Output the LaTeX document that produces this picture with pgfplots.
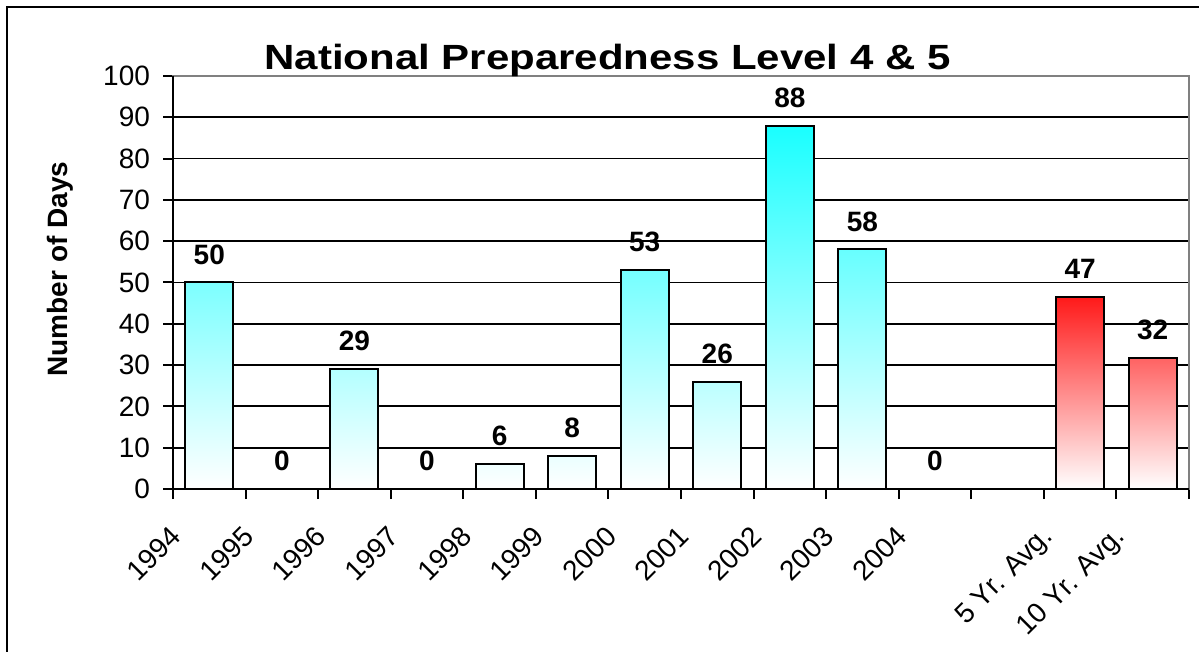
\documentclass[border=0pt]{standalone}
\usepackage{graphicx}
\usepackage{pgfplots}
\pgfplotsset{compat=1.18}
\usepackage{fontspec}
\setmainfont{Liberation Sans}
\definecolor{barcyan}{RGB}{25,255,255}
\definecolor{barred}{RGB}{255,25,25}
\definecolor{plotgray}{RGB}{128,128,128}

\begin{document}
\begin{tikzpicture}
\useasboundingbox (-86.5pt,-81.5pt) rectangle (513pt,244.5pt);
% outer chart frame (right and bottom edges fall outside the picture)
\draw[line width=1.2pt] (-83pt,-120pt) rectangle (560pt,241pt);
\begin{axis}[
    scale only axis,
    width=508pt, height=206.5pt,
    xmin=0, xmax=14,
    ymin=0, ymax=100,
    ybar, bar width=24pt,
    xtick={0,...,14},
    xticklabels={1994,1995,1996,1997,1998,1999,2000,2001,2002,2003,2004,{},5 Yr. Avg.,10 Yr. Avg.,{}},
    ytick={0,10,...,100},
    xtick pos=bottom, ytick pos=left,
    tick align=outside,
    major tick length=5pt,
    tick style={black, line width=1pt},
    axis line style={plotgray, line width=0.8pt},
    ymajorgrids,
    major grid style={black, line width=0.9pt},
    /pgf/number format/assume math mode=true,
    /pgf/number format/fixed,
    /pgf/number format/precision=0,
    ticklabel style={font=\fontsize{14}{16}\selectfont},
    yticklabel style={xshift=-3pt},
    xticklabel style={xshift=-2pt, yshift=-12.5pt, rotate=45, anchor=north east, inner sep=0pt},
    nodes near coords,
    nodes near coords style={font=\bfseries\fontsize{14}{16}\selectfont, anchor=center, yshift=14pt, text=black},
    clip=false,
]
\addplot[bar shift=0pt, draw=black, line width=1pt, top color=barcyan, middle color=barcyan!55!white, bottom color=white]
    coordinates {(0.5,50) (2.5,29) (4.5,6) (5.5,8) (6.5,53) (7.5,26) (8.5,88) (9.5,58)};
\addplot[bar shift=0pt, draw=none, fill=none]
    coordinates {(1.5,0) (3.5,0) (10.5,0)};
\addplot[bar shift=0pt, draw=black, line width=1pt, top color=barred, middle color=barred!55!white, bottom color=white]
    coordinates {(12.5,46.6) (13.5,31.8)};
\draw[black, line width=1.2pt] (rel axis cs:0,1) -- (rel axis cs:0,0) -- (rel axis cs:1,0);
\end{axis}
\node[anchor=base, font=\bfseries\fontsize{17.5}{20}\selectfont] at (217.25pt,209.5pt)
    {\scalebox{1.2}[1]{National Preparedness Level 4 \& 5}};
\node[rotate=90, font=\bfseries\fontsize{14}{16}\selectfont] at (-56.5pt,110pt) {Number of Days};
\end{tikzpicture}
\end{document}
